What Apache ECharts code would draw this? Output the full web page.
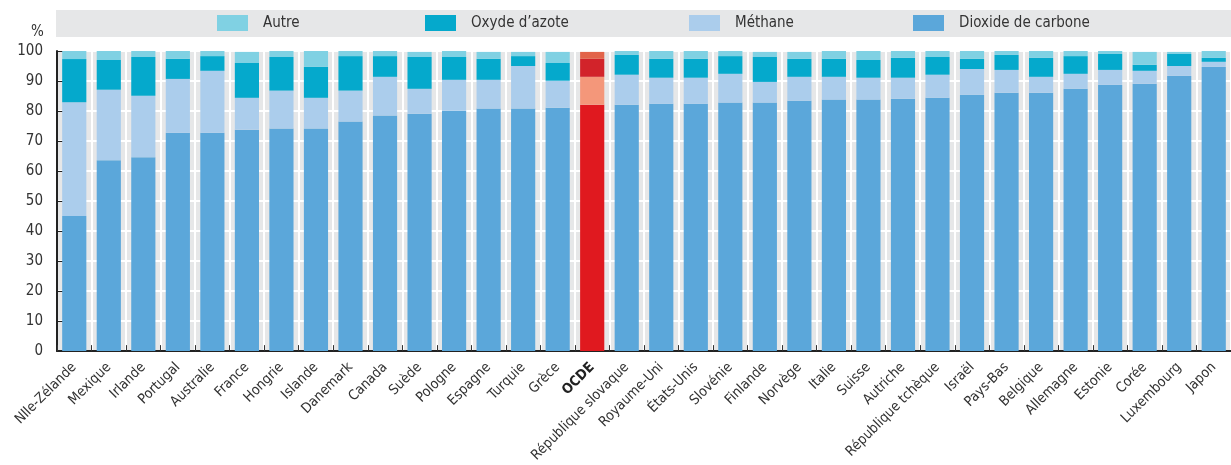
<!DOCTYPE html>
<html>
<head>
<meta charset="utf-8">
<script src="https://cdn.jsdelivr.net/npm/echarts@6/dist/echarts.min.js"></script>
<style>
  html, body { margin: 0; padding: 0; background: #ffffff; }
  #chart { width: 1231px; height: 465px; }
</style>
</head>
<body>
<div id="chart"></div>
<script>
// Greenhouse gas emissions by gas, share of total (%)
const categories = ["Nlle-Zélande", "Mexique", "Irlande", "Portugal", "Australie", "France", "Hongrie", "Islande",
  "Danemark", "Canada", "Suède", "Pologne", "Espagne", "Turquie", "Grèce", "OCDE", "République slovaque",
  "Royaume-Uni", "États-Unis", "Slovénie", "Finlande", "Norvège", "Italie", "Suisse", "Autriche",
  "République tchèque", "Israël", "Pays-Bas", "Belgique", "Allemagne", "Estonie", "Corée", "Luxembourg", "Japon"];

const dioxideCarbone = [45.0, 63.6, 64.6, 72.8, 72.8, 73.8, 74.2, 74.2, 76.5, 78.5, 79.1, 80.1, 80.8, 80.8, 81.1,
  82.1, 82.1, 82.4, 82.4, 82.8, 82.8, 83.4, 83.8, 83.8, 84.1, 84.4, 85.4, 86.1, 86.1, 87.4, 88.7, 89.1, 91.7, 94.7];
const methane = [37.9, 23.5, 20.5, 17.9, 20.6, 10.6, 12.6, 10.2, 10.3, 12.9, 8.3, 10.3, 9.6, 14.2, 9.0,
  9.3, 10.0, 8.7, 8.7, 9.6, 6.9, 8.0, 7.6, 7.3, 7.0, 7.7, 8.6, 7.6, 5.3, 5.0, 5.0, 4.3, 3.3, 1.7];
const oxydeAzote = [14.4, 9.9, 12.9, 6.7, 4.9, 11.6, 11.2, 10.3, 11.5, 6.9, 10.6, 7.6, 7.0, 3.3, 5.9,
  6.0, 6.6, 6.3, 6.3, 5.9, 8.3, 6.0, 6.0, 5.9, 6.6, 5.9, 3.4, 5.0, 6.3, 5.9, 5.3, 2.0, 4.0, 1.3];
const autre = [2.7, 3.0, 2.0, 2.6, 1.7, 3.7, 2.0, 5.3, 1.7, 1.7, 1.7, 2.0, 2.3, 1.4, 3.7,
  2.3, 1.3, 2.6, 2.6, 1.7, 1.7, 2.3, 2.6, 3.0, 2.3, 2.0, 2.6, 1.3, 2.3, 1.7, 1.0, 4.3, 0.7, 2.3];
const yTicks = [0, 10, 20, 30, 40, 50, 60, 70, 80, 90, 100];

const highlight = "OCDE";
const FONT = "'Liberation Sans Narrow', 'DejaVu Sans Condensed', 'Roboto Condensed', sans-serif";

const palette = {
  dioxide: ["#5ba7da", "#e0191f"],
  methane: ["#abcdec", "#f4977a"],
  oxyde: ["#05a9cc", "#d2232a"],
  autre: ["#80d1e3", "#e2644a"]
};

function seriesData(values, colors) {
  return values.map((v, i) => categories[i] === highlight
    ? { value: v, itemStyle: { color: colors[1] } }
    : v);
}

function bar(name, values, colors) {
  return {
    name: name,
    type: "bar",
    stack: "total",
    barWidth: "70%",
    itemStyle: { color: colors[0] },
    data: seriesData(values, colors)
  };
}

function legendAt(name, left) {
  return {
    data: [name],
    left: left,
    top: 15,
    padding: 0,
    icon: "rect",
    itemWidth: 31,
    itemHeight: 16,
    itemGap: 0,
    textStyle: { fontFamily: FONT, fontSize: 15, color: "#333", padding: [0, 0, 0, 10] }
  };
}

const chart = echarts.init(document.getElementById("chart"), null, { renderer: "canvas" });
chart.setOption({
  animation: false,
  textStyle: { fontFamily: FONT },
  graphic: [
    { type: "rect", left: 56, top: 10, shape: { width: 1175, height: 27 }, style: { fill: "#e6e7e8" }, z: -1 },
    { type: "text", left: 31, top: 25, style: { text: "%", font: "15px " + FONT, fill: "#333" } }
  ],
  legend: [
    legendAt("Autre", 217),
    legendAt("Oxyde d’azote", 425),
    legendAt("Méthane", 689),
    legendAt("Dioxide de carbone", 913)
  ],
  grid: {
    left: 57, right: 0, top: 51, bottom: 112,
    show: true, backgroundColor: "#e6e7e8", borderWidth: 0
  },
  xAxis: {
    type: "category",
    data: categories,
    axisLine: { lineStyle: { color: "#222", width: 2 } },
    axisTick: { show: true, inside: true, length: 6, lineStyle: { color: "#333", width: 1 } },
    splitLine: { show: true, lineStyle: { color: "#ffffff", width: 2 } },
    axisLabel: {
      interval: 0,
      rotate: 45,
      margin: 14,
      fontSize: 14,
      color: "#333",
      fontFamily: FONT,
      formatter: v => v === highlight ? "{b|" + v + "}" : v,
      rich: { b: { fontWeight: "bold", fontSize: 14, color: "#222", fontFamily: FONT } }
    }
  },
  yAxis: {
    type: "value",
    min: 0, max: 100, interval: 10,
    axisLine: { show: true, lineStyle: { color: "#222", width: 2 } },
    axisTick: { show: true, inside: true, length: 7, lineStyle: { color: "#222" } },
    splitLine: { show: true, lineStyle: { color: "#ffffff", width: 2 } },
    axisLabel: {
      margin: 14, fontSize: 15, color: "#333", fontFamily: FONT,
      formatter: v => yTicks.includes(v) ? String(v) : ""
    }
  },
  series: [
    bar("Dioxide de carbone", dioxideCarbone, palette.dioxide),
    bar("Méthane", methane, palette.methane),
    bar("Oxyde d’azote", oxydeAzote, palette.oxyde),
    bar("Autre", autre, palette.autre)
  ]
});
</script>
</body>
</html>
